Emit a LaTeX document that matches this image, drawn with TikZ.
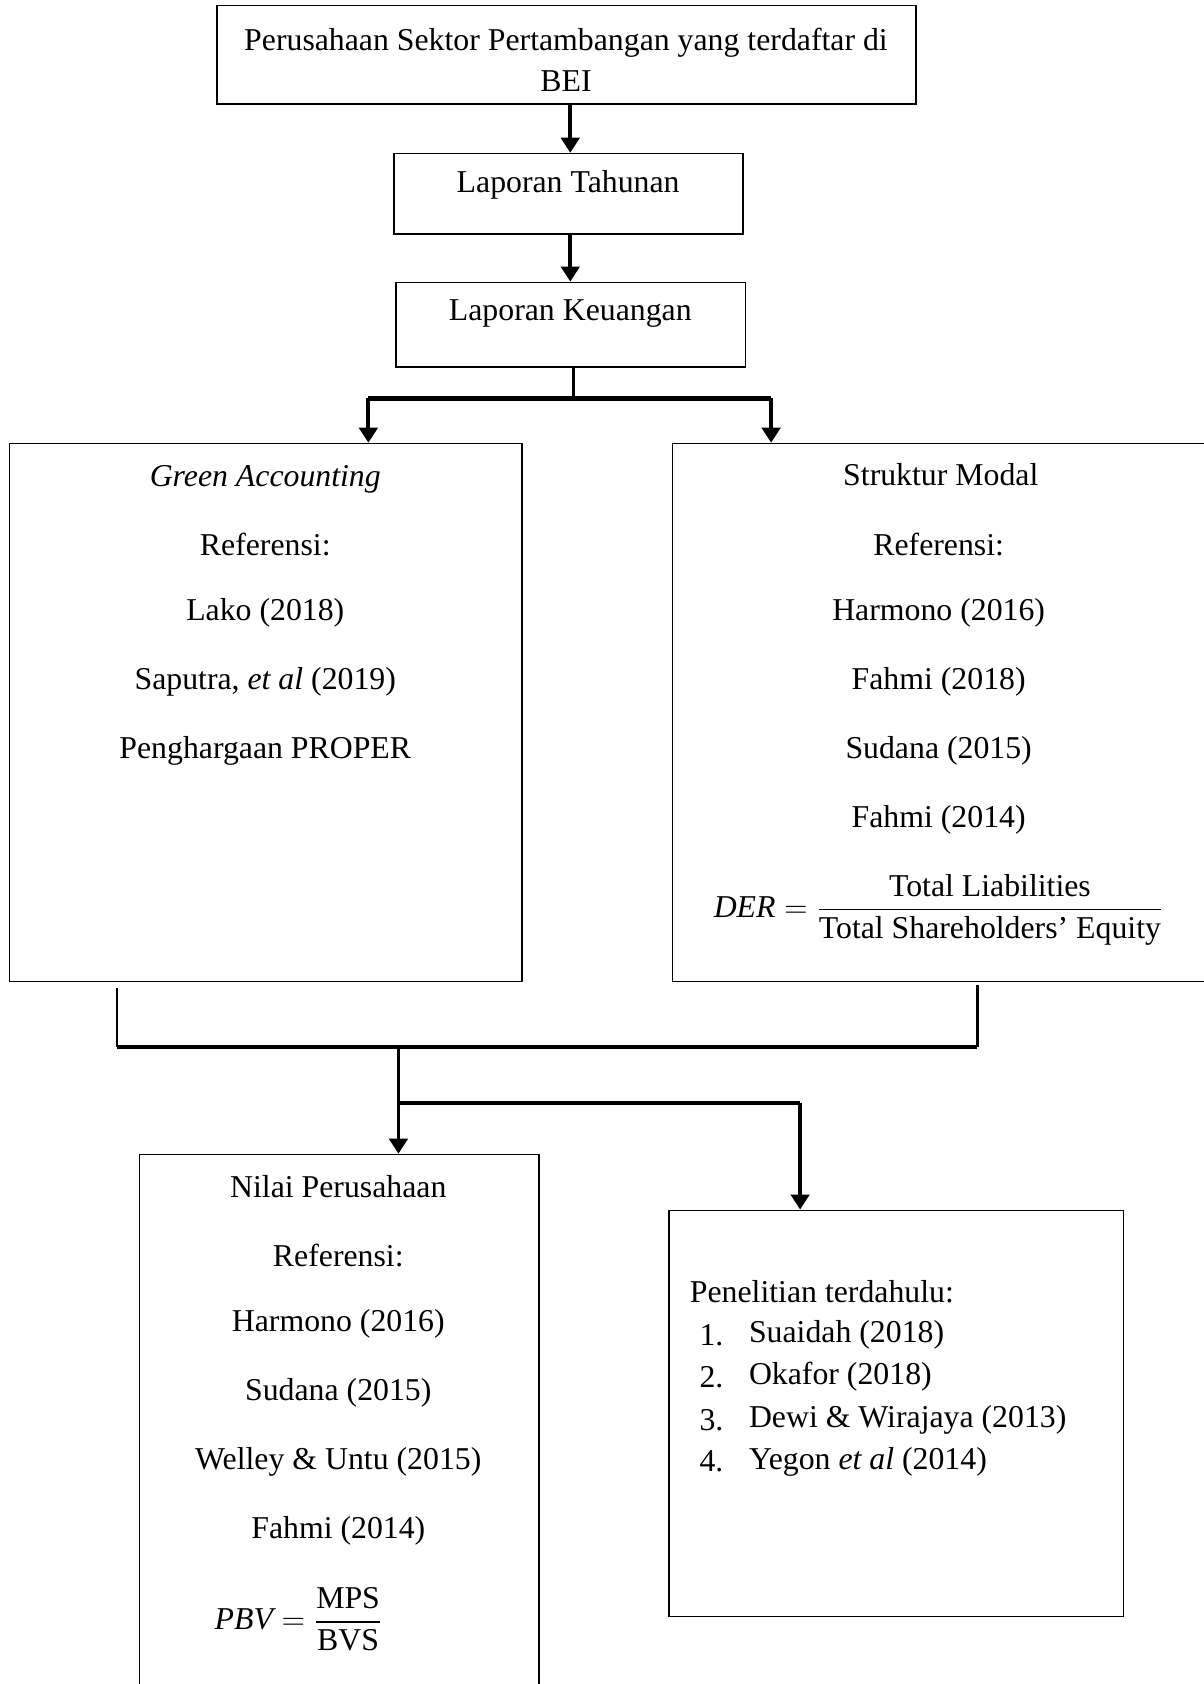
\documentclass[tikz,border=0pt]{standalone}
\usepackage{amsmath}
\usepackage{fontspec}
\setmainfont{Liberation Serif}
\usetikzlibrary{arrows.meta,fit}
\begin{document}
\begin{tikzpicture}[x=0.5pt,y=-0.5pt,
  box/.style={draw, line width=0.75pt, inner sep=0pt, rectangle},
  txt/.style={font=\fontsize{14.8}{19}\selectfont, inner sep=0pt, align=center},
  ltxt/.style={font=\fontsize{14.8}{19}\selectfont, inner sep=0pt, anchor=west},
  conn/.style={line width=1.3pt},
  thickconn/.style={line width=2pt},
  arr/.style={line width=1.8pt, -{Triangle[length=7pt,width=8.5pt]}}]
\useasboundingbox[fill=white] (0,0) rectangle (1121,1568);

% top chain
\node[box, fit={(202,5) (853,97)}] (top) {};
\node[txt] (ttop) at (527,56) {Perusahaan Sektor Pertambangan yang terdaftar di\\BEI};
\node[box, fit={(367,143) (692,218)}] (tah) {};
\node[txt] (ttah) at (529,172) {Laporan Tahunan};
\node[box, fit={(369,263) (694,342)}] (keu) {};
\node[txt] (tkeu) at (531,292) {Laporan Keuangan};

\coordinate (a1) at (531,0);
\draw[arr] (top.south -| a1) -- (tah.north -| a1);
\draw[arr] (tah.south -| a1) -- (keu.north -| a1);

% middle boxes
\node[box, fit={(9,413) (486,914)}] (gr) {};
\node[txt] at (247,445) {\itshape\strut Green Accounting};
\node[txt] at (247,507) {Referensi:};
\node[txt] at (247,571) {Lako (2018)};
\node[txt] at (247,635) {Saputra, \textit{et al} (2019)};
\node[txt] at (247,699) {Penghargaan PROPER};

\node[box, fit={(626,413) (1135,914)}] (st) {};
\node[txt] at (876,442) {Struktur Modal};
\node[txt] at (874,507) {Referensi:};
\node[txt] at (874,571) {Harmono (2016)};
\node[txt] at (874,635) {Fahmi (2018)};
\node[txt] at (874,699) {Sudana (2015)};
\node[txt] at (874,763) {Fahmi (2014)};
\node[txt] (der) at (874,847) {$\mathit{DER}=\dfrac{\text{Total Liabilities}}{\text{Total Shareholders' Equity}}$};

% split from Laporan Keuangan
\coordinate (jc) at (534,371);
\coordinate (jl) at (343,371);
\coordinate (jr) at (718,371);
\draw[conn] (keu.south -| jc) -- (jc);
\draw[thickconn] (jl) -- (jr);
\draw[arr] (jl) -- (jl |- gr.north);
\draw[arr] (jr) -- (jr |- st.north);

% merge
\coordinate (ml) at (109,920);
\coordinate (mr) at (910,917);
\coordinate (mb) at (371,975);
\coordinate (sp) at (371,1027);
\coordinate (spr) at (745,1027);

\node[box, fit={(130,1075) (502,1590)}] (ni) {};
\node[txt] at (315,1105) {Nilai Perusahaan};
\node[txt] at (315,1169) {Referensi:};
\node[txt] at (315,1233) {Harmono (2016)};
\node[txt] at (315,1297) {Sudana (2015)};
\node[txt] at (315,1361) {Welley \& Untu (2015)};
\node[txt] at (315,1425) {Fahmi (2014)};
\node[txt] (pbv) at (278,1508) {$\mathit{PBV}=\dfrac{\text{MPS}}{\text{BVS}}$};

\node[box, fit={(623,1127) (1046,1505)}] (pe) {};
\node[ltxt] at (642,1203) {Penelitian terdahulu:};
\node[ltxt] at (651,1243) {1.};
\node[ltxt] at (697,1243) {Suaidah (2018)};
\node[ltxt] at (651,1282) {2.};
\node[ltxt] at (697,1282) {Okafor (2018)};
\node[ltxt] at (651,1322) {3.};
\node[ltxt] at (697,1322) {Dewi \& Wirajaya (2013)};
\node[ltxt] at (651,1361) {4.};
\node[ltxt] at (697,1361) {Yegon \textit{et al} (2014)};

\draw[conn] (ml) -- (ml |- mb);
\draw[conn] (mr) -- (mr |- mb);
\draw[thickconn] (ml |- mb) -- (mr |- mb);
\draw[arr] (mb) -- (mb |- ni.north);
\draw[thickconn] (sp) -- (spr);
\draw[arr] (spr) -- (spr |- pe.north);
\end{tikzpicture}
\end{document}
